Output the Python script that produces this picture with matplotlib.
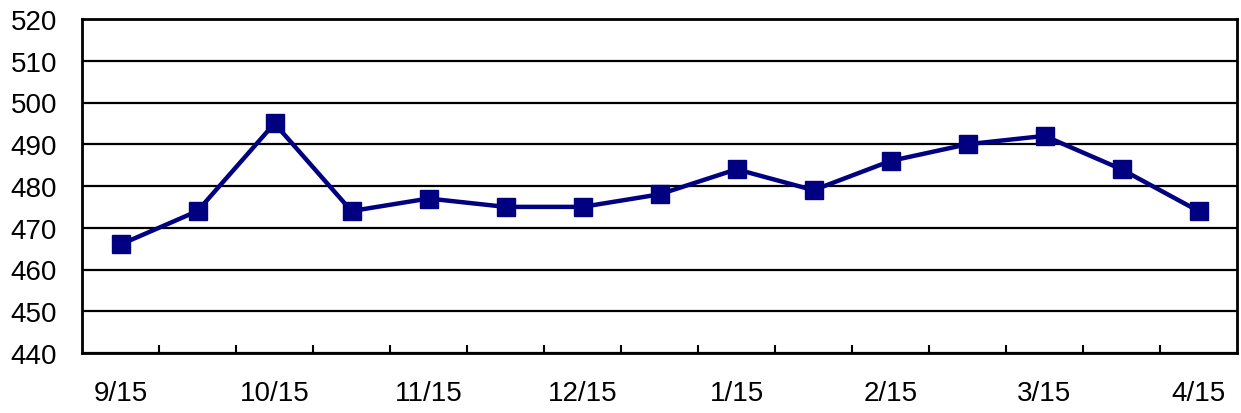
import matplotlib
matplotlib.use("Agg")
import matplotlib.pyplot as plt
from matplotlib.ticker import FixedLocator, NullFormatter

plt.rcParams['font.family'] = ['Liberation Sans', 'DejaVu Sans']

categories = ["9/15", "", "10/15", "", "11/15", "", "12/15", "", "1/15", "", "2/15", "", "3/15", "", "4/15"]
values = [466, 474, 495, 474, 477, 475, 475, 478, 484, 479, 486, 490, 492, 484, 474]
y_ticks = [440, 450, 460, 470, 480, 490, 500, 510, 520]

fig = plt.figure(figsize=(12.41, 4.14), dpi=100)
ax = fig.add_axes([82/1241, 1 - 354/414, (1237-82)/1241, (354-20)/414])

x = list(range(len(values)))
ax.plot(x, values, color="#000080", linewidth=3.2, marker="s", markersize=13.5,
        markerfacecolor="#000080", markeredgecolor="#000080", zorder=3)

ax.set_xlim(-0.5, len(values) - 0.5)
ax.set_ylim(440, 520)
ax.set_yticks(y_ticks)
ax.set_yticklabels([str(v) for v in y_ticks], fontsize=20)
for v in y_ticks:
    ax.axhline(v, color="black", linewidth=1.6, zorder=1)

# category boundary ticks
ax.xaxis.set_major_locator(FixedLocator([i + 0.5 for i in range(len(values) - 1)]))
ax.xaxis.set_major_formatter(NullFormatter())
ax.tick_params(axis='x', which='major', direction='in', length=6, width=1.5)
ax.tick_params(axis='y', length=0, pad=18)
for i, lab in enumerate(categories):
    if lab:
        ax.text(i, 433.5, lab, ha='center', va='top', fontsize=20)

for s in ax.spines.values():
    s.set_linewidth(2)
    s.set_color("black")

fig.savefig("out.png", dpi=100)
